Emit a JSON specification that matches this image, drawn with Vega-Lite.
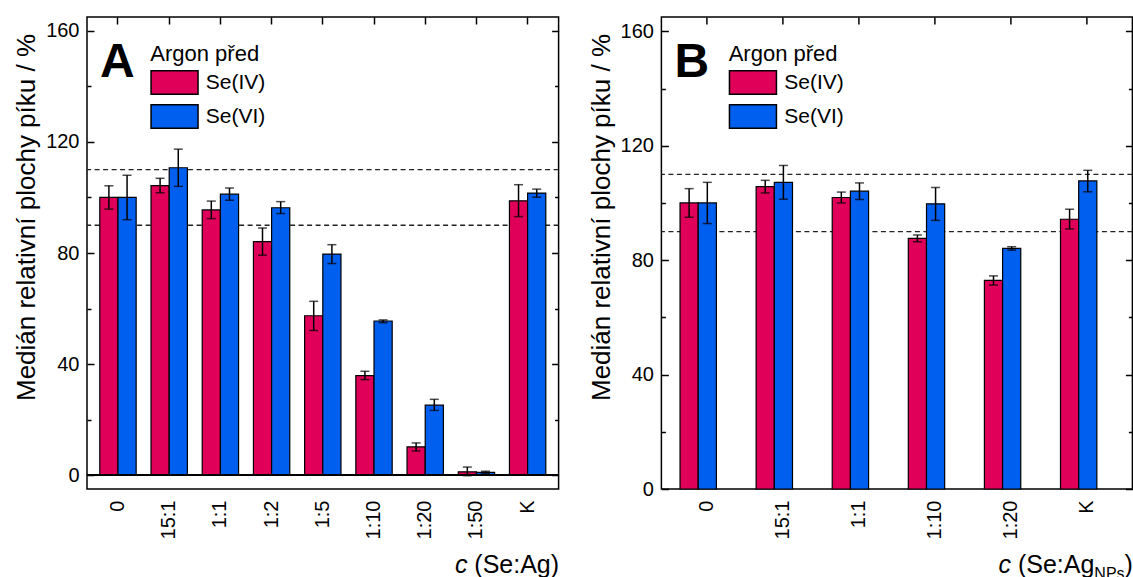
{
  "$schema": "https://vega.github.io/schema/vega-lite/v6.json",
  "background": "white",
  "padding": {"left": 12, "top": 15, "right": 0, "bottom": 0},
  "spacing": 102.4,
  "bounds": "flush",
  "config": {
    "font": "Liberation Sans",
    "view": {"stroke": "black", "strokeWidth": 1.5},
    "axis": {"grid": false, "domain": false, "tickColor": "black", "tickWidth": 1.5, "labelColor": "black", "labelFont": "Liberation Sans", "titleFont": "Liberation Sans", "labelFontSize": 20, "titleFontSize": 25, "titleFontWeight": "normal", "titleColor": "black"},
    "legend": {"titleFont": "Liberation Sans", "labelFont": "Liberation Sans"}
  },
  "datasets": {
    "A": [
      {"c": "0", "s": "Se(IV)", "v": 100, "lo": 95.8, "hi": 104.2},
      {"c": "0", "s": "Se(VI)", "v": 100, "lo": 92, "hi": 108},
      {"c": "15:1", "s": "Se(IV)", "v": 104.3, "lo": 101.7, "hi": 106.9},
      {"c": "15:1", "s": "Se(VI)", "v": 110.7, "lo": 104, "hi": 117.4},
      {"c": "1:1", "s": "Se(IV)", "v": 95.5, "lo": 92.4, "hi": 98.7},
      {"c": "1:1", "s": "Se(VI)", "v": 101.2, "lo": 99, "hi": 103.4},
      {"c": "1:2", "s": "Se(IV)", "v": 84.1, "lo": 79.2, "hi": 89},
      {"c": "1:2", "s": "Se(VI)", "v": 96.3, "lo": 94.2, "hi": 98.5},
      {"c": "1:5", "s": "Se(IV)", "v": 57.4, "lo": 52.1, "hi": 62.6},
      {"c": "1:5", "s": "Se(VI)", "v": 79.6, "lo": 76.2, "hi": 83},
      {"c": "1:10", "s": "Se(IV)", "v": 35.8, "lo": 34.4, "hi": 37.4},
      {"c": "1:10", "s": "Se(VI)", "v": 55.5, "lo": 54.9, "hi": 55.9},
      {"c": "1:20", "s": "Se(IV)", "v": 10.2, "lo": 8.7, "hi": 11.6},
      {"c": "1:20", "s": "Se(VI)", "v": 25.2, "lo": 23.3, "hi": 27.3},
      {"c": "1:50", "s": "Se(IV)", "v": 1.2, "lo": -0.2, "hi": 2.9},
      {"c": "1:50", "s": "Se(VI)", "v": 1.0, "lo": 0.6, "hi": 1.4},
      {"c": "K", "s": "Se(IV)", "v": 98.8, "lo": 93.1, "hi": 104.6},
      {"c": "K", "s": "Se(VI)", "v": 101.6, "lo": 100.1, "hi": 103}
    ],
    "B": [
      {"c": "0", "s": "Se(IV)", "v": 100, "lo": 95, "hi": 105},
      {"c": "0", "s": "Se(VI)", "v": 100, "lo": 92.8, "hi": 107.2},
      {"c": "15:1", "s": "Se(IV)", "v": 105.7, "lo": 103.5, "hi": 107.9},
      {"c": "15:1", "s": "Se(VI)", "v": 107.2, "lo": 101.3, "hi": 113.1},
      {"c": "1:1", "s": "Se(IV)", "v": 101.9, "lo": 100, "hi": 103.8},
      {"c": "1:1", "s": "Se(VI)", "v": 104.1, "lo": 101.2, "hi": 107},
      {"c": "1:10", "s": "Se(IV)", "v": 87.6, "lo": 86.4, "hi": 88.8},
      {"c": "1:10", "s": "Se(VI)", "v": 99.7, "lo": 93.9, "hi": 105.4},
      {"c": "1:20", "s": "Se(IV)", "v": 72.9, "lo": 71.3, "hi": 74.5},
      {"c": "1:20", "s": "Se(VI)", "v": 84.1, "lo": 83.5, "hi": 84.7},
      {"c": "K", "s": "Se(IV)", "v": 94.3, "lo": 90.9, "hi": 97.8},
      {"c": "K", "s": "Se(VI)", "v": 107.7, "lo": 103.9, "hi": 111.4}
    ],
    "limits": [{"r": 90}, {"r": 110}]
  },
  "resolve": {"scale": {"color": "independent", "x": "independent", "y": "independent"}, "legend": {"color": "independent"}},
  "hconcat": [
    {
      "width": 471.6,
      "height": 472,
      "title": {"text": "A", "anchor": "start", "frame": "group", "fontSize": 48, "fontWeight": "bold", "font": "Liberation Sans", "color": "black", "dx": 13, "offset": -109, "baseline": "alphabetic"},
      "data": {"name": "A"},
      "resolve": {"axis": {"x": "independent", "y": "independent"}},
      "layer": [
        {
          "data": {"name": "limits"},
          "mark": {"type": "rule", "strokeDash": [5, 3.5], "strokeWidth": 1.3, "color": "#222"},
          "encoding": {"y": {"field": "r", "type": "quantitative", "scale": {"domain": [-5, 165], "nice": false, "zero": false}, "axis": null}}
        },
        {
          "mark": {"type": "bar", "stroke": "black", "strokeWidth": 1.2},
          "encoding": {
            "x": {"field": "c", "type": "nominal", "sort": null, "scale": {"paddingInner": 0.29, "paddingOuter": 0.25},
              "axis": {"orient": "bottom", "labelAngle": -90, "labelAlign": "right", "labelBaseline": "middle", "ticks": false, "labelPadding": 11, "title": "(Se:Ag)", "titleX": 471.6, "titleY": 83, "titleAlign": "right", "titleBaseline": "alphabetic", "titleAngle": 0}},
            "xOffset": {"field": "s", "type": "nominal", "sort": null, "scale": {"paddingInner": 0, "paddingOuter": 0}},
            "y": {"field": "v", "type": "quantitative", "scale": {"domain": [-5, 165], "nice": false, "zero": false},
              "axis": {"orient": "left", "values": [0, 40, 80, 120, 160], "tickSize": -7, "labelPadding": 15, "title": "Medián relativní plochy píku / %", "titleFontSize": 26, "titlePadding": 6, "titleY": 200}},
            "y2": {"datum": 0},
            "color": {"field": "s", "type": "nominal", "scale": {"domain": ["Se(IV)", "Se(VI)"], "range": ["#E0005A", "#005FEE"]},
              "legend": {"orient": "none", "legendX": 63.3, "legendY": 27, "title": "Argon před", "titleFontSize": 22, "titleFontWeight": "normal", "titleColor": "black", "labelFontSize": 21, "labelColor": "black", "symbolType": "M-1,-1H3V1H-1Z", "symbolSize": 552, "symbolStrokeColor": "black", "symbolStrokeWidth": 1.5, "symbolOpacity": 1, "rowPadding": 3, "labelOffset": 30.5, "titlePadding": 4}}
          }
        },
        {
          "mark": {"type": "rule", "strokeWidth": 1.5, "color": "black"},
          "encoding": {
            "x": {"field": "c", "type": "nominal", "sort": null, "axis": {"orient": "top", "labels": false, "tickSize": -7, "title": "c", "titleFontStyle": "italic", "titleX": 379.9, "titleY": 555, "titleAlign": "right", "titleBaseline": "alphabetic", "titleAngle": 0}},
            "xOffset": {"field": "s", "type": "nominal", "sort": null},
            "y": {"field": "lo", "type": "quantitative", "scale": {"domain": [-5, 165], "nice": false, "zero": false},
              "axis": {"orient": "right", "values": [0, 40, 80, 120, 160], "labels": false, "tickSize": -7, "title": null}},
            "y2": {"field": "hi"}
          }
        },
        {
          "mark": {"type": "tick", "orient": "horizontal", "size": 9, "thickness": 1.5, "color": "black"},
          "encoding": {
            "x": {"field": "c", "type": "nominal", "sort": null, "axis": null},
            "xOffset": {"field": "s", "type": "nominal", "sort": null},
            "y": {"field": "lo", "type": "quantitative", "scale": {"domain": [-5, 165], "nice": false, "zero": false},
              "axis": {"orient": "left", "values": [20, 60, 100, 140], "labels": false, "tickSize": -4, "title": null}}
          }
        },
        {
          "mark": {"type": "tick", "orient": "horizontal", "size": 9, "thickness": 1.5, "color": "black"},
          "encoding": {
            "x": {"field": "c", "type": "nominal", "sort": null, "axis": null},
            "xOffset": {"field": "s", "type": "nominal", "sort": null},
            "y": {"field": "hi", "type": "quantitative", "scale": {"domain": [-5, 165], "nice": false, "zero": false},
              "axis": {"orient": "right", "values": [20, 60, 100, 140], "labels": false, "tickSize": -4, "title": null}}
          }
        },
        {
          "mark": {"type": "rule", "strokeWidth": 1.5, "color": "black"},
          "encoding": {"y": {"datum": 0, "type": "quantitative", "scale": {"domain": [-5, 165], "nice": false, "zero": false}, "axis": null}}
        }
      ]
    },
    {
      "width": 471,
      "height": 472,
      "title": {"text": "B", "anchor": "start", "frame": "group", "fontSize": 48, "fontWeight": "bold", "font": "Liberation Sans", "color": "black", "dx": 13, "offset": -109, "baseline": "alphabetic"},
      "data": {"name": "B"},
      "resolve": {"axis": {"x": "independent", "y": "independent"}},
      "layer": [
        {
          "data": {"name": "limits"},
          "mark": {"type": "rule", "strokeDash": [5, 3.5], "strokeWidth": 1.3, "color": "#222"},
          "encoding": {"y": {"field": "r", "type": "quantitative", "scale": {"domain": [0, 165], "nice": false, "zero": false}, "axis": null}}
        },
        {
          "mark": {"type": "bar", "stroke": "black", "strokeWidth": 1.2},
          "encoding": {
            "x": {"field": "c", "type": "nominal", "sort": null, "scale": {"paddingInner": 0.3, "paddingOuter": 0.245},
              "axis": {"orient": "bottom", "labelAngle": -90, "labelAlign": "right", "labelBaseline": "middle", "ticks": false, "labelPadding": 11, "title": "(Se:Ag", "titleX": 432.5, "titleY": 83, "titleAlign": "right", "titleBaseline": "alphabetic", "titleAngle": 0}},
            "xOffset": {"field": "s", "type": "nominal", "sort": null, "scale": {"paddingInner": 0, "paddingOuter": 0}},
            "y": {"field": "v", "type": "quantitative", "scale": {"domain": [0, 165], "nice": false, "zero": false},
              "axis": {"orient": "left", "values": [0, 40, 80, 120, 160], "tickSize": -7, "labelPadding": 15, "title": "Medián relativní plochy píku / %", "titleFontSize": 26, "titlePadding": 6, "titleY": 200}},
            "y2": {"datum": 0},
            "color": {"field": "s", "type": "nominal", "scale": {"domain": ["Se(IV)", "Se(VI)"], "range": ["#E0005A", "#005FEE"]},
              "legend": {"orient": "none", "legendX": 67.3, "legendY": 27, "title": "Argon před", "titleFontSize": 22, "titleFontWeight": "normal", "titleColor": "black", "labelFontSize": 21, "labelColor": "black", "symbolType": "M-1,-1H3V1H-1Z", "symbolSize": 552, "symbolStrokeColor": "black", "symbolStrokeWidth": 1.5, "symbolOpacity": 1, "rowPadding": 3, "labelOffset": 30.5, "titlePadding": 4}}
          }
        },
        {
          "mark": {"type": "rule", "strokeWidth": 1.5, "color": "black"},
          "encoding": {
            "x": {"field": "c", "type": "nominal", "sort": null, "axis": {"orient": "top", "labels": false, "tickSize": -7, "title": "c", "titleFontStyle": "italic", "titleX": 349.1, "titleY": 555, "titleAlign": "right", "titleBaseline": "alphabetic", "titleAngle": 0}},
            "xOffset": {"field": "s", "type": "nominal", "sort": null},
            "y": {"field": "lo", "type": "quantitative", "scale": {"domain": [0, 165], "nice": false, "zero": false},
              "axis": {"orient": "right", "values": [0, 40, 80, 120, 160], "labels": false, "tickSize": -7, "title": null}},
            "y2": {"field": "hi"}
          }
        },
        {
          "mark": {"type": "tick", "orient": "horizontal", "size": 9, "thickness": 1.5, "color": "black"},
          "encoding": {
            "x": {"field": "c", "type": "nominal", "sort": null, "axis": {"orient": "bottom", "labels": false, "ticks": false, "title": "NPs", "titleFontSize": 16, "titleX": 462.7, "titleY": 89, "titleAlign": "right", "titleBaseline": "alphabetic", "titleAngle": 0}},
            "xOffset": {"field": "s", "type": "nominal", "sort": null},
            "y": {"field": "lo", "type": "quantitative", "scale": {"domain": [0, 165], "nice": false, "zero": false},
              "axis": {"orient": "left", "values": [20, 60, 100, 140], "labels": false, "tickSize": -4, "title": null}}
          }
        },
        {
          "mark": {"type": "tick", "orient": "horizontal", "size": 9, "thickness": 1.5, "color": "black"},
          "encoding": {
            "x": {"field": "c", "type": "nominal", "sort": null, "axis": {"orient": "bottom", "labels": false, "ticks": false, "title": ")", "titleX": 471, "titleY": 83, "titleAlign": "right", "titleBaseline": "alphabetic", "titleAngle": 0}},
            "xOffset": {"field": "s", "type": "nominal", "sort": null},
            "y": {"field": "hi", "type": "quantitative", "scale": {"domain": [0, 165], "nice": false, "zero": false},
              "axis": {"orient": "right", "values": [20, 60, 100, 140], "labels": false, "tickSize": -4, "title": null}}
          }
        }
      ]
    }
  ]
}
